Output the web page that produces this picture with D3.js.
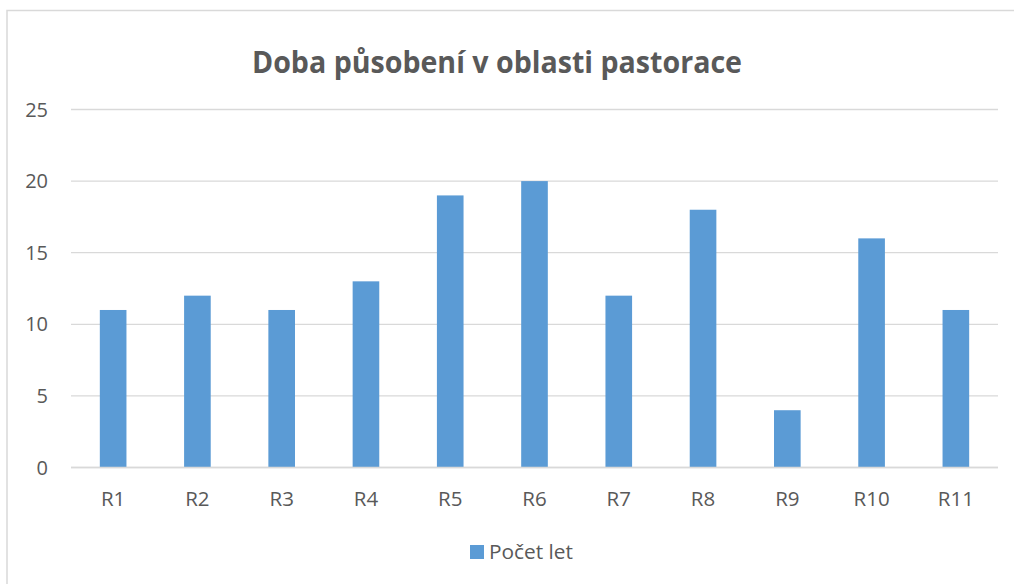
<!DOCTYPE html>
<html>
<head>
<meta charset="utf-8">
<script src="https://cdn.jsdelivr.net/npm/d3@7"></script>
<style>
  html, body { margin: 0; padding: 0; background: #fff; }
  svg { display: block; }
  text { font-family: "Open Sans", "Noto Sans", sans-serif; fill: #595959; }
</style>
</head>
<body>
<script>
const categories = ["R1","R2","R3","R4","R5","R6","R7","R8","R9","R10","R11"];
const values = [11, 12, 11, 13, 19, 20, 12, 18, 4, 16, 11];
const yTicks = [0, 5, 10, 15, 20, 25];
const seriesName = "Počet let";
const title = "Doba působení v oblasti pastorace";

const W = 1014, H = 584;
const svg = d3.select("body").append("svg").attr("width", W).attr("height", H);

// chart border
svg.append("rect").attr("x", 7).attr("y", 10.5).attr("width", W + 20).attr("height", H + 20)
  .attr("fill", "#fff").attr("stroke", "#D9D9D9").attr("stroke-width", 1.5);

const plot = { left: 71, right: 998, top: 109.5, bottom: 467.5 };

const x = d3.scaleBand().domain(categories).range([plot.left, plot.right]).paddingInner(0.684).paddingOuter(0.342);
const y = d3.scaleLinear().domain([0, 25]).range([plot.bottom, plot.top]);

// gridlines
svg.append("g").selectAll("line").data(yTicks).join("line")
  .attr("x1", plot.left).attr("x2", plot.right)
  .attr("y1", d => y(d)).attr("y2", d => y(d))
  .attr("stroke", "#D9D9D9").attr("stroke-width", 1.3);

// y labels
svg.append("g").selectAll("text").data(yTicks).join("text")
  .attr("x", 48).attr("y", d => y(d) + 7)
  .attr("text-anchor", "end").attr("font-size", 20)
  .text(d => d);

// bars
svg.append("g").selectAll("rect").data(values).join("rect")
  .attr("x", (d, i) => x(categories[i]))
  .attr("width", x.bandwidth())
  .attr("y", d => y(d))
  .attr("height", d => y(0) - y(d))
  .attr("fill", "#5B9BD5");

// redraw baseline on top
svg.append("line").attr("x1", plot.left).attr("x2", plot.right)
  .attr("y1", y(0)).attr("y2", y(0)).attr("stroke", "#D9D9D9").attr("stroke-width", 1.3);

// x labels
svg.append("g").selectAll("text").data(categories).join("text")
  .attr("x", d => x(d) + x.bandwidth() / 2).attr("y", 506)
  .attr("text-anchor", "middle").attr("font-size", 20.5)
  .text(d => d);

// title
svg.append("text").attr("x", 497).attr("y", 73)
  .attr("text-anchor", "middle").attr("font-size", 31).attr("font-weight", "bold")
  .attr("textLength", 490).attr("lengthAdjust", "spacingAndGlyphs")
  .text(title);

// legend
svg.append("rect").attr("x", 470).attr("y", 545).attr("width", 14).attr("height", 14).attr("fill", "#5B9BD5");
svg.append("text").attr("x", 489).attr("y", 559).attr("font-size", 20.5)
  .attr("textLength", 84).attr("lengthAdjust", "spacingAndGlyphs")
  .text(seriesName);
</script>
</body>
</html>
